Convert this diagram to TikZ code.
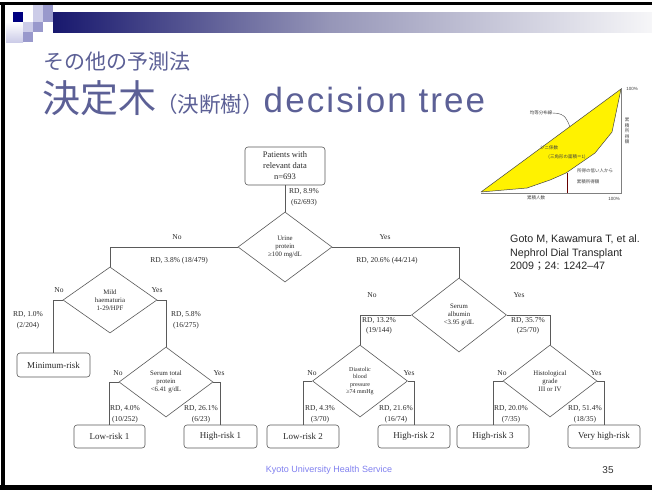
\documentclass[tikz,border=0pt]{standalone}
\usepackage{fontspec}
\setmainfont{Liberation Serif}
\newfontfamily\cjk{Noto Sans CJK JP}
\newfontfamily\arial{Liberation Sans}
\usetikzlibrary{shapes.geometric}
\definecolor{titlec}{RGB}{92,96,150}
\definecolor{navyA}{RGB}{24,24,110}
\definecolor{midA}{RGB}{150,150,184}
\definecolor{endA}{RGB}{246,246,248}
\definecolor{sqdark}{RGB}{0,0,128}
\definecolor{sqlight}{RGB}{204,204,232}
\definecolor{sqmid}{RGB}{153,153,204}
\definecolor{linec}{RGB}{90,90,90}
\definecolor{txt}{RGB}{40,40,40}
\definecolor{footc}{RGB}{128,128,240}
\definecolor{lorline}{RGB}{70,70,70}
\tikzset{
  decision/.style={diamond, draw=linec, line width=0.6pt, minimum width=94pt, minimum height=70pt,
    inner sep=0pt, font=\fontsize{6.8}{8.3}\selectfont, align=center, text=txt},
  leaf/.style={rectangle, rounded corners=3pt, draw=linec, line width=0.6pt, minimum width=72pt,
    minimum height=23pt, font=\fontsize{9}{11}\selectfont, text=txt, inner sep=1pt},
  edge/.style={draw=linec, line width=0.6pt},
  lab/.style={font=\fontsize{7.5}{11}\selectfont, text=txt, align=center, inner sep=0pt},
  tiny/.style={font=\cjk\fontsize{4.5}{5}\selectfont, text=black!75, inner sep=0pt}
}
\begin{document}
\begin{tikzpicture}[x=1pt,y=-1pt]
\useasboundingbox (0,0) rectangle (652,490);
\fill[white] (0,0) rectangle (652,490);
% slide frame
\fill[black] (0,2) rectangle (652,5);
\fill[black] (1,2) rectangle (5,490);
\fill[black] (0,485) rectangle (652,490);
% title bar
\shade[left color=navyA, right color=midA] (53,12) rectangle (330,32);
\shade[left color=midA, right color=endA] (330,12) rectangle (652,32);
% squares
\fill[sqdark] (13,12) rectangle (23,22);
\fill[sqlight] (33,5) rectangle (43,12);
\fill[sqmid] (43,5) rectangle (53,12);
\fill[sqlight] (33,12) rectangle (43,22);
\fill[sqmid] (43,12) rectangle (53,22);
\shade[top color=white, bottom color=sqlight] (6,22) rectangle (23,42);
\fill[sqlight] (23,22) rectangle (33,32);
\fill[sqmid] (33,22) rectangle (43,32);
\fill[sqmid] (23,32) rectangle (33,42);
% titles
\node[anchor=base west, inner sep=0pt, text=titlec, font=\cjk\fontsize{21}{21}\selectfont] (sub) at (43,69) {その他の予測法};
\node[anchor=base west, inner sep=0pt, text=titlec] (title) at (42,112)
  {{\cjk\fontsize{38}{38}\selectfont 決定木}{\cjk\fontsize{21.5}{21.5}\selectfont （決断樹）}{\arial\addfontfeature{LetterSpace=6}\fontsize{35}{35}\selectfont decision tree}};
% Lorenz curve
\fill[yellow] (481,192) -- (621,89) -- (612,132) -- (595,153) -- (566,173) -- (550,180) -- (527,188) -- cycle;
\draw[lorline, line width=0.5pt, line join=round] (481,192) -- (621,89) -- (612,132) -- (595,153) -- (566,173) -- (550,180) -- (527,188) -- cycle;
\draw[gray, line width=0.4pt] (481,193) -- (621,193) -- (621,88);
\draw[red!40!black, line width=0.4pt] (567,173) -- (567,193);
\node[tiny] (l1) at (541,113) {均等分布線};
\draw[lorline, line width=0.4pt] (l1.east) .. controls (566,113) and (567,120) .. (570,127);
\node[tiny] (l2) at (549,148) {ジニ係数};
\node[tiny] (l3) at (567,157) {(三角形の面積＝1)};
\node[tiny] (l4) at (595,171) {所得の低い人から};
\node[tiny] (l5) at (588,182) {累積所得額};
\node[tiny] (l6) at (536,198) {累積人数};
\node[tiny, font=\arial\fontsize{4.5}{5}\selectfont] (l7) at (632,89) {100\%};
\node[tiny, font=\arial\fontsize{4.5}{5}\selectfont] (l8) at (614,199) {100\%};
\node[tiny, align=center, font=\cjk\fontsize{4.5}{5.6}\selectfont] (l9) at (627,131) {累\\積\\所\\得\\額};
% citation
\node[anchor=west, align=left, inner sep=0pt, font=\arial\fontsize{10.7}{13.5}\selectfont, text=black!85] (cite) at (510,253)
  {Goto M, Kawamura T, et al.\\Nephrol Dial Transplant\\2009{\cjk ；}24: 1242–47};
% tree nodes
\node[leaf, minimum width=80pt, minimum height=38pt, align=center, font=\fontsize{8.5}{11}\selectfont] (root) at (285,166) {Patients with\\relevant data\\n=693};
\node[decision] (urine) at (285,247) {Urine\\protein\\≥100 mg/dL};
\node[decision, minimum height=66pt] (mild) at (110,300) {Mild\\haematuria\\1-29/HPF};
\node[decision, minimum width=95pt, minimum height=74pt] (alb) at (459,315) {Serum\\albumin\\<3.95 g/dL};
\node[decision] (stp) at (166,382) {Serum total\\protein\\<6.41 g/dL};
\node[decision, minimum width=95pt, minimum height=72pt, font=\fontsize{6}{7.4}\selectfont] (dia) at (360,381) {Diastolic\\blood\\pressure\\≥74 mmHg};
\node[decision, minimum height=72pt] (hist) at (550,381) {Histological\\grade\\III or IV};
\node[leaf, minimum width=73pt, minimum height=24pt] (minr) at (53.5,365) {Minimum-risk};
\node[leaf, minimum width=71pt] (low1) at (109.5,436.5) {Low-risk 1};
\node[leaf, minimum width=73pt] (high1) at (220.5,436.5) {High-risk 1};
\node[leaf] (low2) at (303,436.5) {Low-risk 2};
\node[leaf] (high2) at (414,436.5) {High-risk 2};
\node[leaf] (high3) at (493,436.5) {High-risk 3};
\node[leaf] (vhigh) at (604,436.5) {Very high-risk};
% connectors
\draw[edge] (root) -- (urine);
\draw[edge] (urine.west) -| (mild.north);
\draw[edge] (urine.east) -| (alb.north);
\draw[edge] (mild.west) -| (minr.north);
\draw[edge] (mild.east) -| (stp.north);
\draw[edge] (stp.west) -| (low1.north);
\draw[edge] (stp.east) -| (high1.north);
\draw[edge] (alb.west) -| (dia.north);
\draw[edge] (alb.east) -| (hist.north);
\draw[edge] (dia.west) -| (low2.north);
\draw[edge] (dia.east) -| (high2.north);
\draw[edge] (hist.west) -| (high3.north);
\draw[edge] (hist.east) -| (vhigh.north);
% labels
\node[lab] (e0) at (304,197.5) {RD, 8.9\%\\(62/693)};
\node[lab] (n1) at (177,237) {No};
\node[lab] (r1) at (179,261) {RD, 3.8\% (18/479)};
\node[lab] (y1) at (385,237) {Yes};
\node[lab] (r2) at (387,261) {RD, 20.6\% (44/214)};
\node[lab] (n2) at (59,290) {No};
\node[lab] (r3) at (28,320) {RD, 1.0\%\\(2/204)};
\node[lab] (y2) at (157,290) {Yes};
\node[lab] (r4) at (186,320) {RD, 5.8\%\\(16/275)};
\node[lab] (n3) at (118,373) {No};
\node[lab] (r5) at (125,414) {RD, 4.0\%\\(10/252)};
\node[lab] (y3) at (219,373) {Yes};
\node[lab] (r6) at (201,414) {RD, 26.1\%\\(6/23)};
\node[lab] (n4) at (372,295) {No};
\node[lab, font=\fontsize{7.5}{10}\selectfont] (r7) at (379,326) {RD, 13.2\%\\(19/144)};
\node[lab] (y4) at (519,295) {Yes};
\node[lab, font=\fontsize{7.5}{10}\selectfont] (r8) at (528,326) {RD, 35.7\%\\(25/70)};
\node[lab] (n5) at (312,373) {No};
\node[lab] (r9) at (320,414) {RD, 4.3\%\\(3/70)};
\node[lab] (y5) at (409,373) {Yes};
\node[lab] (r10) at (396,414) {RD, 21.6\%\\(16/74)};
\node[lab] (n6) at (502,373) {No};
\node[lab] (r11) at (511,414) {RD, 20.0\%\\(7/35)};
\node[lab] (y6) at (596,373) {Yes};
\node[lab] (r12) at (585,414) {RD, 51.4\%\\(18/35)};
% footer
\node[inner sep=0pt, font=\arial\fontsize{9}{9}\selectfont, text=footc] (foot) at (329,470) {Kyoto University Health Service};
\node[inner sep=0pt, font=\arial\fontsize{10}{10}\selectfont, text=black!80] (pg) at (608,470) {35};
\end{tikzpicture}
\end{document}
